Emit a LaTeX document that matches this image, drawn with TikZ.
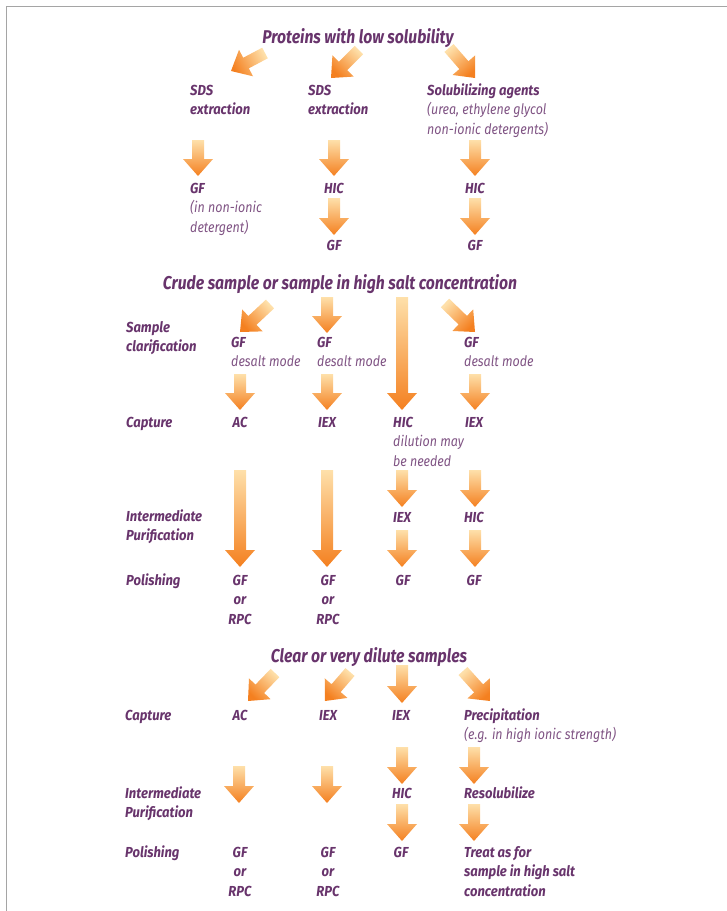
\documentclass[tikz,border=0pt]{standalone}
\usepackage{fontspec}
\setmainfont{Fira Sans}[FakeStretch=0.85]
\newfontfamily\labfont{Fira Sans}[FakeStretch=0.9]
\newfontfamily\litefont{Fira Sans}[FakeStretch=0.86]
\usepackage{tikz}
\usetikzlibrary{calc}
\definecolor{plum}{RGB}{104,52,108}
\definecolor{plumlight}{RGB}{128,84,132}
\definecolor{arrowlight}{RGB}{254,224,170}
\definecolor{arrowdark}{RGB}{244,128,32}
\definecolor{framegray}{RGB}{165,165,165}
\newcommand{\lite}[1]{{\litefont\mdseries\itshape\color{plumlight}#1}}
% block arrow from tail #1 to tip #2, shaded along its direction
\newcommand{\flowarrow}[2]{%
  \path let \p1=($(#2)-(#1)$) in
    \pgfextra{\pgfmathparse{atan2(\y1,\x1)+90}\xdef\flowang{\pgfmathresult}};
  \coordinate (fa-h) at ($(#2)!17pt!(#1)$);
  \shade[top color=arrowlight, bottom color=arrowdark, shading angle=\flowang]
    ($(#1)!6pt!90:(#2)$) -- ($(fa-h)!6pt!90:(#2)$) -- ($(fa-h)!15pt!90:(#2)$)
    -- (#2) -- ($(fa-h)!15pt!-90:(#2)$) -- ($(fa-h)!6pt!-90:(#2)$)
    -- ($(#1)!6pt!-90:(#2)$) -- cycle;
}
\begin{document}
\begin{tikzpicture}[x=1pt, y=-1pt,
  head/.style={font=\bfseries\itshape\fontsize{18.5}{22}\selectfont, text=plum, inner sep=0pt, anchor=base},
  lab/.style={font=\labfont\bfseries\itshape\fontsize{14.5}{19.5}\selectfont, text=plum, inner sep=0pt, anchor=base west, align=left},
  collab/.style={lab, anchor=base, align=center}]
\useasboundingbox (0,0) rectangle (727,911);
\draw[framegray, line width=1.5pt] (6.5,911) -- (6.5,6.5) -- (727,6.5);

% NB: multi-line nodes sit on the baseline of their last line

% ---------------- Proteins with low solubility ----------------
\node[head] (lowsol) at (358,43) {Proteins with low solubility};

\node[lab] (sdsa) at (190,114.5) {SDS\\extraction};
\node[lab] (sdsb) at (308,114.5) {SDS\\extraction};
\node[lab] (solag) at (427,134) {Solubilizing agents\\\lite{(urea, ethylene glycol}\\\lite{non-ionic detergents)}};

\node[lab] (gfdet) at (190,232) {GF\\\lite{(in non-ionic}\\\lite{detergent)}};
\node[collab] (hicb) at (334,193) {HIC};
\node[collab] (hicc) at (475,193) {HIC};
\node[collab] (gfb) at (334,250) {GF};
\node[collab] (gfc) at (475,250) {GF};

\flowarrow{265,53}{231,71}
\flowarrow{359,50}{331,78}
\flowarrow{449,48}{475,78}
\flowarrow{198,140}{198,176}
\flowarrow{334,140}{334,176}
\flowarrow{475,140}{475,176}
\flowarrow{334,198}{334,235}
\flowarrow{475,198}{475,235}

% ---------------- Crude sample / high salt ----------------
\node[head] (crude) at (340,289) {Crude sample or sample in high salt concentration};

\node[lab] (rclar) at (126,351.5) {Sample\\clarification};
\node[lab] (rcapa) at (126,427) {Capture};
\node[lab] (rinta) at (126,540.5) {Intermediate\\Purification};
\node[lab] (rpola) at (126,585) {Polishing};

\node[lab] (gfda) at (231,366.5) {GF\\\lite{desalt mode}};
\node[lab] (gfdb) at (317,366.5) {GF\\\lite{desalt mode}};
\node[lab] (gfdd) at (464,366.5) {GF\\\lite{desalt mode}};

\node[collab] (aca) at (240,427) {AC};
\node[collab] (iexb) at (327,427) {IEX};
\node[lab] (hicdil) at (393,466) {HIC\\\lite{dilution may}\\\lite{be needed}};
\node[collab] (iexd) at (474,427) {IEX};

\node[collab] (iexc) at (402,522) {IEX};
\node[collab] (hicd) at (474,522) {HIC};

\node[collab] (gfrpca) at (240,624) {GF\\or\\RPC};
\node[collab] (gfrpcb) at (328,624) {GF\\or\\RPC};
\node[collab] (gfpc) at (403,585) {GF};
\node[collab] (gfpd) at (474,585) {GF};

\flowarrow{270,304}{240,332}
\flowarrow{327,297}{327,333}
\flowarrow{402,297}{402,410}
\flowarrow{445,303}{475,332}
\flowarrow{240,374}{240,410}
\flowarrow{327,374}{327,410}
\flowarrow{475,374}{475,410}
\flowarrow{240,470}{240,567}
\flowarrow{327,470}{327,567}
\flowarrow{402,470}{402,507}
\flowarrow{475,470}{475,507}
\flowarrow{402,530}{402,567}
\flowarrow{475,530}{475,567}

% ---------------- Clear or very dilute samples ----------------
\node[head] (clear) at (369,662) {Clear or very dilute samples};

\node[lab] (rcapb) at (125,720) {Capture};
\node[lab] (rintb) at (125,817.5) {Intermediate\\Purification};
\node[lab] (rpolb) at (125,857) {Polishing};

\node[collab] (acb) at (240,720) {AC};
\node[collab] (iexe) at (328,720) {IEX};
\node[collab] (iexf) at (401,720) {IEX};
\node[lab] (precip) at (464,739.5) {Precipitation\\\lite{(e.g. in high ionic strength)}};

\node[collab] (hice) at (402,798) {HIC};
\node[lab] (resol) at (464,798) {Resolubilize};

\node[collab] (gfrpcc) at (240,896) {GF\\or\\RPC};
\node[collab] (gfrpcd) at (328,896) {GF\\or\\RPC};
\node[collab] (gfpe) at (401,857) {GF};
\node[lab] (treat) at (464,896) {Treat as for\\sample in high salt\\concentration};

\flowarrow{275,673}{248,701}
\flowarrow{350,672}{325,701}
\flowarrow{402,665}{402,703}
\flowarrow{463,671}{490,701}
\flowarrow{239,766}{239,803}
\flowarrow{327,766}{327,803}
\flowarrow{402,747}{402,784}
\flowarrow{474,747}{474,784}
\flowarrow{402,804}{402,841}
\flowarrow{474,804}{474,841}

\end{tikzpicture}
\end{document}
